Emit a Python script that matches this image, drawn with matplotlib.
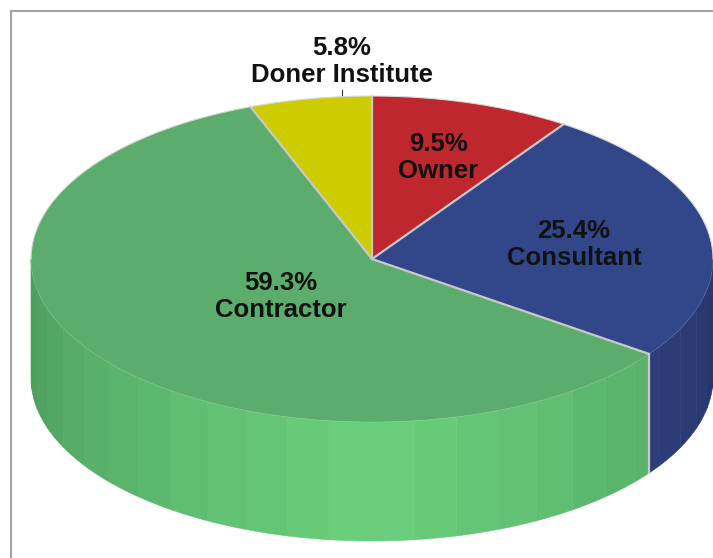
"""Extruded pie of share by party, drawn from polygons in pixel coordinates."""

import matplotlib

matplotlib.use("Agg")
import matplotlib.pyplot as plt
import numpy as np
from matplotlib.colors import to_rgb
from matplotlib.patches import Polygon

WIDTH, HEIGHT = 713, 558

# clockwise from 12 o'clock
names = ["Owner", "Consultant", "Contractor", "Doner Institute"]
shares = [9.5, 25.4, 59.3, 5.8]
top_colours = ["#be272d", "#31478a", "#5cad6d", "#cccc00"]
wall_bright = ["#be272d", "#35498f", "#6bd07d", "#cccc00"]
wall_dark = ["#8a1d20", "#27366b", "#4c9a5d", "#99990a"]

CX, CY, RX, RY = 372, 259, 341, 163
DEPTH = 119
FACET = 7.2  # wall shading comes in 2% steps
EDGE = "#c9c9c9"
FONT = "Liberation Sans"

label_pos = [(438, 158), (574, 245), (281, 297), (342, 62)]


def rim(theta):
    theta = np.radians(theta)
    return CX + RX * np.sin(theta), CY - RY * np.cos(theta)


def arc(start, stop, n=80):
    t = np.linspace(start, stop, n)
    return np.column_stack(rim(t))


def wall_colour(i, mid):
    # brightest at the front (180 deg), darker toward the sides
    w = np.clip(abs(mid - 180) / 90, 0, 1)
    a, b = np.array(to_rgb(wall_bright[i])), np.array(to_rgb(wall_dark[i]))
    return a + (b - a) * w


fig = plt.figure(figsize=(WIDTH / 100, HEIGHT / 100), dpi=100)
ax = fig.add_axes([0, 0, 1, 1])
ax.set_xlim(0, WIDTH)
ax.set_ylim(HEIGHT, 0)
ax.axis("off")

# outer frame, only top and left are in the crop
ax.plot([11, 11, WIDTH + 5], [HEIGHT + 5, 10.5, 10.5], color="#a3a3a3", lw=1.5, solid_joinstyle="miter")

edges = np.cumsum([0] + shares) * 3.6

# side wall, front half only
for i in range(len(shares)):
    lo, hi = max(edges[i], 90), min(edges[i + 1], 270)
    if hi <= lo:
        continue
    steps = np.arange(np.floor(lo / FACET) * FACET, hi + FACET, FACET)
    steps = np.clip(steps, lo, hi)
    for a, b in zip(steps[:-1], steps[1:]):
        if b <= a:
            continue
        top = arc(a, b, 12)
        poly = np.vstack([top, (top + [0, DEPTH])[::-1]])
        c = wall_colour(i, (a + b) / 2)
        ax.add_patch(Polygon(poly, closed=True, facecolor=c, edgecolor=c, lw=0.4, zorder=2))

# top face
for i in range(len(shares)):
    poly = np.vstack([[CX, CY], arc(edges[i], edges[i + 1])])
    ax.add_patch(Polygon(poly, closed=True, facecolor=top_colours[i], edgecolor="none", zorder=3))

# light seams
for e in edges[:-1]:
    x, y = rim(e)
    ax.plot([CX, x], [CY, y], color=EDGE, lw=1.6, zorder=4, solid_capstyle="round")
x, y = rim(edges[2])
ax.plot([x, x], [y, y + DEPTH], color=EDGE, lw=1.6, zorder=4)

back = arc(270, 450, 160)
ax.plot(back[:, 0], back[:, 1], color="#d8d8d8", lw=0.8, zorder=4)
front = arc(90, 270, 160)
ax.plot(front[:, 0], front[:, 1], color="#ffffff", lw=0.5, alpha=0.15, zorder=4)

# leader for the outside label
ax.plot([342, 342], [90, 98], color="#333333", lw=0.8, zorder=2)

for name, share, (x, y) in zip(names, shares, label_pos):
    ax.text(x, y - 14, f"{share}%", ha="center", va="center", family=FONT, fontweight="bold", fontsize=18.5, color="#111111", zorder=5)
    ax.text(x, y + 13, name, ha="center", va="center", family=FONT, fontweight="bold", fontsize=18.5, color="#111111", zorder=5)

fig.savefig("out.png", dpi=100)
